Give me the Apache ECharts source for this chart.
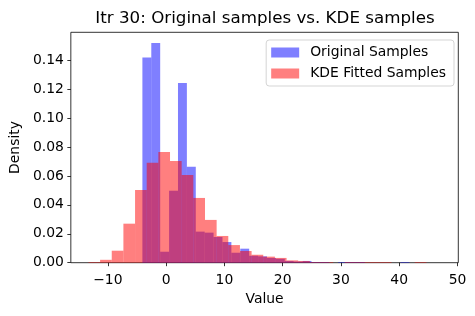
<!DOCTYPE html>
<html>
<head>
<meta charset="utf-8">
<script src="https://cdn.jsdelivr.net/npm/echarts@6/dist/echarts.min.js"></script>
<style>html,body{margin:0;padding:0;background:#fff;}#c{width:475px;height:316px;}</style>
</head>
<body>
<div id="c"></div>
<script>
// ---- data ----
const blueName = 'Original Samples';
const redName = 'KDE Fitted Samples';
const blueBinStart = -4.07;
const blueBinWidth = 1.527;
const blueDensity = [0.142, 0.152, 0.0076, 0.0498, 0.1244, 0.0664, 0.0215, 0.0208, 0.0178, 0.0143,
  0.0069, 0.0097, 0.0048, 0.0044, 0.0033, 0.0027, 0.0012, 0.0008, 0.0012, 0.0005,
  0.0005, 0, 0.0005, 0.0005, 0.0005, 0, 0, 0, 0, 0.0005];
const redBinStart = -13.33;
const redBinWidth = 2.0;
const redDensity = [0.0005, 0.002, 0.0083, 0.027, 0.0503, 0.0692, 0.0766, 0.0704, 0.0607, 0.0448,
  0.0296, 0.0185, 0.0122, 0.0081, 0.0055, 0.0042, 0.0033, 0.0016, 0.0012, 0.0005,
  0.0005, 0, 0.0005, 0.0005, 0.0005, 0.0005, 0, 0, 0.0005];
const xTicks = [-10, 0, 10, 20, 30, 40, 50];
const yTicks = [0, 0.02, 0.04, 0.06, 0.08, 0.10, 0.12, 0.14];
const xRange = [-16.35, 50.14];
const yRange = [0, 0.1594];

function bins(start, width, dens) {
  return dens.map((d, i) => [start + i * width, start + (i + 1) * width, d]);
}
function renderBar(params, api) {
  const p0 = api.coord([api.value(0), api.value(2)]);
  const p1 = api.coord([api.value(1), 0]);
  return {
    type: 'rect',
    shape: { x: p0[0], y: p0[1], width: p1[0] - p0[0], height: p1[1] - p0[1] },
    style: api.style()
  };
}
const FONT = 'DejaVu Sans';
const chart = echarts.init(document.getElementById('c'), null, { renderer: 'canvas' });
chart.setOption({
  animation: false,
  backgroundColor: '#fff',
  title: {
    text: 'Itr 30: Original samples vs. KDE samples',
    left: 260, top: 5, textAlign: 'center',
    textStyle: { fontFamily: FONT, fontSize: 16.7, fontWeight: 'normal', color: '#000' }
  },
  grid: {
    left: 70.7, right: 16.7, top: 32.3, bottom: 53.3,
    show: true, borderColor: '#000', borderWidth: 0.8, backgroundColor: 'transparent'
  },
  legend: {
    orient: 'vertical', right: 21, top: 40,
    data: [{ name: blueName, icon: 'rect' }, { name: redName, icon: 'rect' }],
    itemWidth: 28, itemHeight: 10, itemGap: 6,
    padding: [5, 8, 5, 5],
    borderColor: '#d5d5d5', borderWidth: 1, borderRadius: 3,
    backgroundColor: 'rgba(255,255,255,0.8)',
    textStyle: { fontFamily: FONT, fontSize: 13.9, color: '#000', lineHeight: 15, padding: [0, 0, 0, 6] }
  },
  xAxis: {
    type: 'value', min: xRange[0], max: xRange[1],
    name: 'Value', nameLocation: 'middle', nameGap: 30,
    nameTextStyle: { fontFamily: FONT, fontSize: 13.9, color: '#000' },
    splitLine: { show: false },
    axisLine: { show: false, onZero: false },
    axisTick: { show: true, length: 3.5, customValues: xTicks, lineStyle: { color: '#000', width: 0.8 } },
    axisLabel: { show: true, customValues: xTicks, margin: 11, fontFamily: FONT, fontSize: 13.9, color: '#000',
      formatter: v => (v < 0 ? '\u2212' + Math.abs(v) : String(v)) }
  },
  yAxis: {
    type: 'value', min: yRange[0], max: yRange[1],
    name: 'Density', nameLocation: 'middle', nameGap: 46,
    nameTextStyle: { fontFamily: FONT, fontSize: 13.9, color: '#000' },
    splitLine: { show: false },
    axisLine: { show: false, onZero: false },
    axisTick: { show: true, length: 3.5, customValues: yTicks, lineStyle: { color: '#000', width: 0.8 } },
    axisLabel: { show: true, customValues: yTicks, margin: 7, fontFamily: FONT, fontSize: 13.9, color: '#000',
      formatter: v => v.toFixed(2) }
  },
  series: [
    { name: blueName, type: 'custom', renderItem: renderBar,
      itemStyle: { color: 'rgba(0,0,255,0.5)' }, encode: { x: [0, 1], y: 2 },
      data: bins(blueBinStart, blueBinWidth, blueDensity) },
    { name: redName, type: 'custom', renderItem: renderBar,
      itemStyle: { color: 'rgba(255,0,0,0.5)' }, encode: { x: [0, 1], y: 2 },
      data: bins(redBinStart, redBinWidth, redDensity) }
  ]
});
</script>
</body>
</html>
